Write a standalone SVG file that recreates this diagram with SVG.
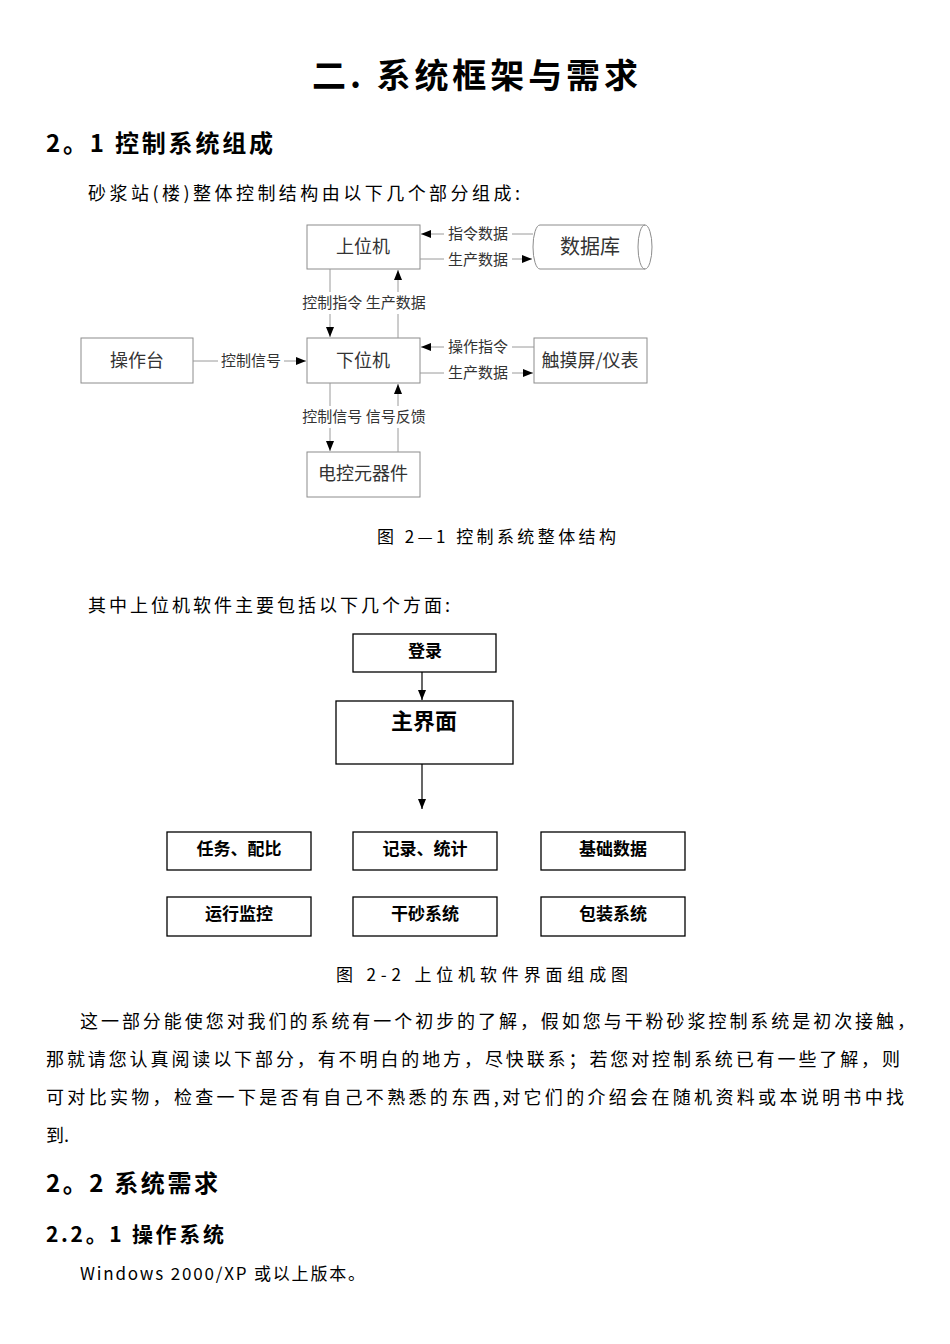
<svg xmlns="http://www.w3.org/2000/svg" width="950" height="1344" viewBox="0 0 950 1344">
<defs>
<marker id="ah" markerWidth="10" markerHeight="8" refX="10" refY="4" orient="auto" markerUnits="userSpaceOnUse"><path d="M0,0 L10,4 L0,8 Z" fill="#000"/></marker>
</defs>
<style>
.f{font-family:"Noto Sans CJK SC","Noto Sans",sans-serif;}
.h1{font-size:34px;font-weight:bold;fill:#000;}
.h2{font-size:24px;font-weight:bold;fill:#000;}
.h3{font-size:21px;font-weight:bold;fill:#000;}
.body{font-size:18px;fill:#000;}
.n1 rect,.n1 path{fill:#fff;stroke:#8c8c8c;stroke-width:1;}
.n1 text{font-size:18px;fill:#333;text-anchor:middle;}
.lbl{font-size:15px;fill:#333;text-anchor:middle;}
.c1{stroke:#9a9a9a;stroke-width:1;fill:none;}
.n2 rect{fill:#fff;stroke:#000;stroke-width:1.3;}
.n2 text{font-size:17px;font-weight:bold;fill:#000;text-anchor:middle;}
.c2{stroke:#000;stroke-width:1.2;fill:none;}
</style>
<rect width="950" height="1344" fill="#fff"/>

<text class="f h1" x="312" y="88" textLength="326" lengthAdjust="spacing">二. 系统框架与需求</text>
<text class="f h2" x="46" y="152" textLength="227" lengthAdjust="spacing">2。1 控制系统组成</text>
<text class="f body" x="88" y="200" textLength="432" lengthAdjust="spacing">砂浆站(楼)整体控制结构由以下几个部分组成:</text>

<!-- Diagram 1 nodes -->
<g id="upper" class="f n1"><rect x="307" y="225" width="113" height="44"/><text x="363" y="253">上位机</text></g>
<g id="database" class="f n1"><path d="M540,225 L645,225 A7,22 0 0 1 645,269 L540,269 A7,22 0 0 1 540,225 Z"/><path d="M645,225 A7,22 0 0 0 645,269" style="fill:none"/><text x="590" y="254" style="font-size:20px">数据库</text></g>
<g id="console" class="f n1"><rect x="81" y="338" width="112" height="45"/><text x="137" y="367">操作台</text></g>
<g id="lower" class="f n1"><rect x="307" y="338" width="113" height="45"/><text x="363" y="367">下位机</text></g>
<g id="touch" class="f n1"><rect x="534" y="338" width="113" height="45"/><text x="590" y="367">触摸屏/仪表</text></g>
<g id="elec" class="f n1"><rect x="307" y="452" width="113" height="45"/><text x="363" y="480">电控元器件</text></g>

<!-- Diagram 1 connectors -->
<g id="connectors1">
<path class="c1" d="M533,234 L512,234"/><path class="c1" d="M444,234 L421,234" marker-end="url(#ah)"/>
<path class="c1" d="M420,259 L444,259"/><path class="c1" d="M512,259 L532,259" marker-end="url(#ah)"/>
<path class="c1" d="M330,269 L330,292"/><path class="c1" d="M330,314 L330,337" marker-end="url(#ah)"/>
<path class="c1" d="M398,338 L398,314"/><path class="c1" d="M398,292 L398,270" marker-end="url(#ah)"/>
<path class="c1" d="M193,361 L218,361"/><path class="c1" d="M284,361 L306,361" marker-end="url(#ah)"/>
<path class="c1" d="M534,347 L512,347"/><path class="c1" d="M444,347 L421,347" marker-end="url(#ah)"/>
<path class="c1" d="M420,373 L444,373"/><path class="c1" d="M512,373 L533,373" marker-end="url(#ah)"/>
<path class="c1" d="M330,383 L330,406"/><path class="c1" d="M330,428 L330,451" marker-end="url(#ah)"/>
<path class="c1" d="M398,452 L398,428"/><path class="c1" d="M398,406 L398,384" marker-end="url(#ah)"/>
<text class="f lbl" x="478" y="239">指令数据</text>
<text class="f lbl" x="478" y="265">生产数据</text>
<text class="f lbl" x="364" y="308">控制指令 生产数据</text>
<text class="f lbl" x="251" y="366">控制信号</text>
<text class="f lbl" x="478" y="352">操作指令</text>
<text class="f lbl" x="478" y="378">生产数据</text>
<text class="f lbl" x="364" y="422">控制信号 信号反馈</text>
</g>

<text class="f" x="377" y="543" textLength="239" lengthAdjust="spacing" style="font-size:17px;fill:#000">图 2—1 控制系统整体结构</text>
<text class="f body" x="88" y="612" textLength="362" lengthAdjust="spacing">其中上位机软件主要包括以下几个方面:</text>

<!-- Diagram 2 nodes -->
<g id="login" class="f n2"><rect x="353" y="634" width="143" height="38"/><text x="425" y="657">登录</text></g>
<g id="main" class="f n2"><rect x="336" y="701" width="177" height="63"/><text x="424" y="729" style="font-size:22px">主界面</text></g>
<g id="task" class="f n2"><rect x="167" y="832" width="144" height="38"/><text x="239" y="855">任务、配比</text></g>
<g id="record" class="f n2"><rect x="353" y="832" width="144" height="38"/><text x="425" y="855">记录、统计</text></g>
<g id="basic" class="f n2"><rect x="541" y="832" width="144" height="38"/><text x="613" y="855">基础数据</text></g>
<g id="monitor" class="f n2"><rect x="167" y="897" width="144" height="39"/><text x="239" y="920">运行监控</text></g>
<g id="drysand" class="f n2"><rect x="353" y="897" width="144" height="39"/><text x="425" y="920">干砂系统</text></g>
<g id="pack" class="f n2"><rect x="541" y="897" width="144" height="39"/><text x="613" y="920">包装系统</text></g>

<g id="connectors2">
<path class="c2" d="M422,672 L422,700" marker-end="url(#ah)"/>
<path class="c2" d="M422,764 L422,809" marker-end="url(#ah)"/>
</g>

<text class="f" x="336" y="981" textLength="292" lengthAdjust="spacing" style="font-size:17px;fill:#000">图 2-2  上位机软件界面组成图</text>

<text class="f body" x="80" y="1028" textLength="835" lengthAdjust="spacing">这一部分能使您对我们的系统有一个初步的了解，假如您与干粉砂浆控制系统是初次接触，</text>
<text class="f body" x="46" y="1066" textLength="854" lengthAdjust="spacing">那就请您认真阅读以下部分，有不明白的地方，尽快联系；若您对控制系统已有一些了解，则</text>
<text class="f body" x="46" y="1104" textLength="858" lengthAdjust="spacing">可对比实物，检查一下是否有自己不熟悉的东西,对它们的介绍会在随机资料或本说明书中找</text>
<text class="f body" x="46" y="1142">到.</text>

<text class="f h2" x="46" y="1192" textLength="172" lengthAdjust="spacing">2。2 系统需求</text>
<text class="f h3" x="46" y="1242" textLength="178" lengthAdjust="spacing">2.2。1 操作系统</text>
<text class="f" x="80" y="1280" textLength="285" lengthAdjust="spacing" style="font-size:17px;fill:#000">Windows 2000/XP 或以上版本。</text>
</svg>
